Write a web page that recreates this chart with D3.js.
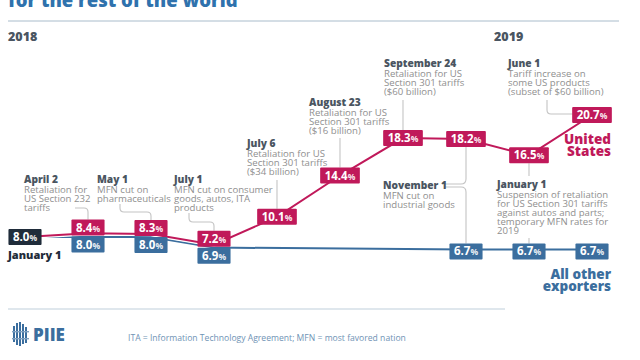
<!DOCTYPE html>
<html>
<head>
<meta charset="utf-8">
<script src="https://cdn.jsdelivr.net/npm/d3@7"></script>
<style>
  html, body { margin: 0; padding: 0; background: #fff; }
  svg { display: block; font-family: "Open Sans", "DejaVu Sans", sans-serif; }
</style>
</head>
<body>
<svg id="chart" width="640" height="360"></svg>
<script>
// ---------- data ----------
const dates = ["January 1", "April 2", "May 1", "July 1", "July 6", "August 23",
               "September 24", "November 1", "January 1 2019", "June 1 2019"];
const usValues    = [8.0, 8.4, 8.3, 7.2, 10.1, 14.4, 18.3, 18.2, 16.5, 20.7];
const otherValues = [8.0, 8.0, 8.0, 6.9, null, null, null, 6.7, 6.7, 6.7];
const yearLabels  = ["2018", "2019"];
const seriesNames = [["United", "States"], ["All other", "exporters"]];
const annTitles = ["April 2", "May 1", "July 1", "July 6", "August 23", "September 24",
                   "November 1", "January 1", "June 1"];
const annBodies = [
  ["Retaliation for", "US Section 232", "tariffs"],
  ["MFN cut on", "pharmaceuticals"],
  ["MFN cut on consumer", "goods, autos, ITA", "products"],
  ["Retaliation for US", "Section 301 tariffs", "($34 billion)"],
  ["Retaliation for US", "Section 301 tariffs", "($16 billion)"],
  ["Retaliation for US", "Section 301 tariffs", "($60 billion)"],
  ["MFN cut on", "industrial goods"],
  ["Suspension of retaliation", "for US Section 301 tariffs", "against autos and parts;", "temporary MFN rates for", "2019"],
  ["Tariff increase on", "some US products", "(subset of $60 billion)"]
];
const titleText = "for the rest of the world";
const noteText = "ITA = Information Technology Agreement; MFN = most favored nation";

(function () {
// ---------- style ----------
const RED = "#c0195a", BLUE = "#3b6e9e", DARK = "#1f2c3a";
const GRAYTXT = "#8f8f8f", TITLEC = "#4a5561", CONN = "#c4c4c4";

const svg = d3.select("#chart");

const x = d3.scalePoint().domain(dates).range([25, 592]);
const y = d3.scaleLinear().domain([8, 20.7]).range([237, 115]);

// header
svg.append("text").attr("x", 8).attr("y", 7).text(titleText)
  .attr("font-size", 18.5).attr("font-weight", 800).attr("fill", "#2f72ad");
svg.append("line").attr("x1", 8).attr("x2", 619).attr("y1", 21).attr("y2", 21)
  .attr("stroke", "#a9bccb").attr("stroke-width", 1);
svg.append("text").attr("x", 8).attr("y", 41).text(yearLabels[0])
  .attr("font-size", 12.5).attr("font-weight", 800).attr("fill", TITLEC);
svg.append("text").attr("x", 494).attr("y", 41).text(yearLabels[1])
  .attr("font-size", 12.5).attr("font-weight", 800).attr("fill", TITLEC);

// data
const usPts = dates.map((d, i) => ({d, v: usValues[i], i}));
const otherPts = dates.map((d, i) => ({d, v: otherValues[i], i})).filter(p => p.v != null);

// boxes positions
const BH = 16;
const boxes = [];
dates.forEach((d, i) => {
  const u = usValues[i], o = otherValues[i];
  if (i === 0) { boxes.push({d, v: u, color: DARK, cy: y(u)}); return; }
  if (o != null && Math.abs(y(u) - y(o)) < 20) {
    const mid = (y(u) + y(o)) / 2;
    boxes.push({d, v: u, color: RED, cy: mid - BH / 2 + 0.5, series: 0});
    boxes.push({d, v: o, color: BLUE, cy: mid + BH / 2 + 1.5, series: 1});
  } else {
    boxes.push({d, v: u, color: RED, cy: y(u), series: 0});
    if (o != null) boxes.push({d, v: o, color: BLUE, cy: y(o) + 2, series: 1});
  }
});
const boxOf = (i, s) => boxes.find(b => b.d === dates[i] && (i === 0 || b.series === s));

// connectors (annotation layout)
const conn = svg.append("g").attr("fill", "none").attr("stroke", CONN).attr("stroke-width", 1.1);
const bTop = (i, s) => boxOf(i, s).cy - BH / 2;
const bBot = (i, s) => boxOf(i, s).cy + BH / 2;
let X;
X = x(dates[1]); conn.append("path").attr("d", `M${X-13},208 H${X-4} Q${X},208 ${X},212 V${bTop(1,0)}`);
X = x(dates[2]); conn.append("path").attr("d", `M${X-31},204 V208 Q${X-31},212 ${X-27},212 H${X-4} Q${X},212 ${X},216 V${bTop(2,0)}`);
X = x(dates[3]); conn.append("path").attr("d", `M${X-25},213 V218 Q${X-25},222 ${X-21},222 H${X-4} Q${X},222 ${X},226 V${bTop(3,0)}`);
X = x(dates[4]); conn.append("path").attr("d", `M${X},180 V${bTop(4,0)}`);
X = x(dates[5]); conn.append("path").attr("d", `M${X},138 V${bTop(5,0)}`);
X = x(dates[6]); conn.append("path").attr("d", `M${X},100 V${bTop(6,0)}`);
X = x(dates[7]);
conn.append("path").attr("d", `M${X-22},184 H${X-5} Q${X},184 ${X},179 V${bBot(7,0)}`);
conn.append("path").attr("d", `M${X-22},187 H${X-5} Q${X},187 ${X},192 V${bTop(7,1)}`);
X = x(dates[8]);
conn.append("path").attr("d", `M${X},${bBot(8,0)} V176`);
conn.append("path").attr("d", `M${X},238 V${bTop(8,1)}`);
X = x(dates[9]);
conn.append("path").attr("d", `M${X-45},100 V110 Q${X-45},114 ${X-41},114 H${X-17}`);

// lines
const line = d3.line().x(p => x(p.d)).y(p => y(p.v));
svg.append("path").datum(otherPts).attr("d", line).attr("fill", "none")
  .attr("stroke", "#fff").attr("stroke-width", 4.5);
svg.append("path").datum(otherPts).attr("d", line).attr("fill", "none")
  .attr("stroke", BLUE).attr("stroke-width", 2);
svg.append("path").datum(usPts).attr("d", line).attr("fill", "none")
  .attr("stroke", "#fff").attr("stroke-width", 4.5);
svg.append("path").datum(usPts).attr("d", line).attr("fill", "none")
  .attr("stroke", RED).attr("stroke-width", 2);

// boxes
const bg = svg.append("g");
boxes.forEach(b => {
  const g = bg.append("g");
  const rect = g.append("rect").attr("fill", b.color).attr("rx", 1);
  const t = g.append("text").attr("fill", "#fff").attr("font-weight", 700)
    .attr("text-anchor", "middle").attr("x", x(b.d)).attr("y", b.cy + 4);
  t.append("tspan").text(b.v.toFixed(1)).attr("font-size", 11.5);
  t.append("tspan").text("%").attr("font-size", 8.5).attr("fill-opacity", 0.9);
  const w = t.node().getComputedTextLength() + 9;
  rect.attr("x", x(b.d) - w / 2).attr("y", b.cy - BH / 2).attr("width", w).attr("height", BH);
});

// annotations
const annPos = [[24,183],[97,183],[174,183],[247,147],[309,106],[384,67],[383,189],[497,188],[508,67]];
annTitles.forEach((t, k) => {
  const [ax, ay] = annPos[k];
  svg.append("text").attr("x", ax).attr("y", ay).text(t)
    .attr("font-size", 10.2).attr("font-weight", 800).attr("fill", TITLEC);
  annBodies[k].forEach((s, j) => {
    svg.append("text").attr("x", ax).attr("y", ay + 10 + j * 9).text(s)
      .attr("font-size", 9.6).attr("fill", GRAYTXT);
  });
});
svg.append("text").attr("x", 8).attr("y", 259).text(dates[0])
  .attr("font-size", 11).attr("font-weight", 800).attr("fill", DARK);

// series labels
seriesNames[0].forEach((s, j) => svg.append("text").attr("x", 611).attr("y", 144 + j * 12)
  .attr("text-anchor", "end").text(s).attr("font-size", 13.5).attr("font-weight", 800).attr("fill", RED));
seriesNames[1].forEach((s, j) => svg.append("text").attr("x", 611).attr("y", 279 + j * 12)
  .attr("text-anchor", "end").text(s).attr("font-size", 13.5).attr("font-weight", 800).attr("fill", BLUE));

// footer
svg.append("line").attr("x1", 8).attr("x2", 505).attr("y1", 309).attr("y2", 309)
  .attr("stroke", "#bfcfdc").attr("stroke-width", 1.2);
const logo = svg.append("g").attr("fill", BLUE);
[[13,326,2,16],[16,323,2,22],[19,322,2,24],[22,324,2,20],[25,327,2,16]].forEach(r =>
  logo.append("rect").attr("x", r[0]).attr("y", r[1]).attr("width", r[2]).attr("height", r[3]));
[[12,331,17,1.4],[12,338,17,1.4]].forEach(r =>
  logo.append("rect").attr("x", r[0]).attr("y", r[1]).attr("width", r[2]).attr("height", r[3]).attr("fill", "#7fa0c0"));
svg.append("text").attr("x", 33).attr("y", 341).text("PIIE")
  .attr("font-size", 17).attr("font-weight", 800).attr("fill", BLUE);
svg.append("text").attr("x", 128).attr("y", 341).text(noteText)
  .attr("font-size", 8.6).attr("fill", "#6f93b5");
})();
</script>
</body>
</html>
